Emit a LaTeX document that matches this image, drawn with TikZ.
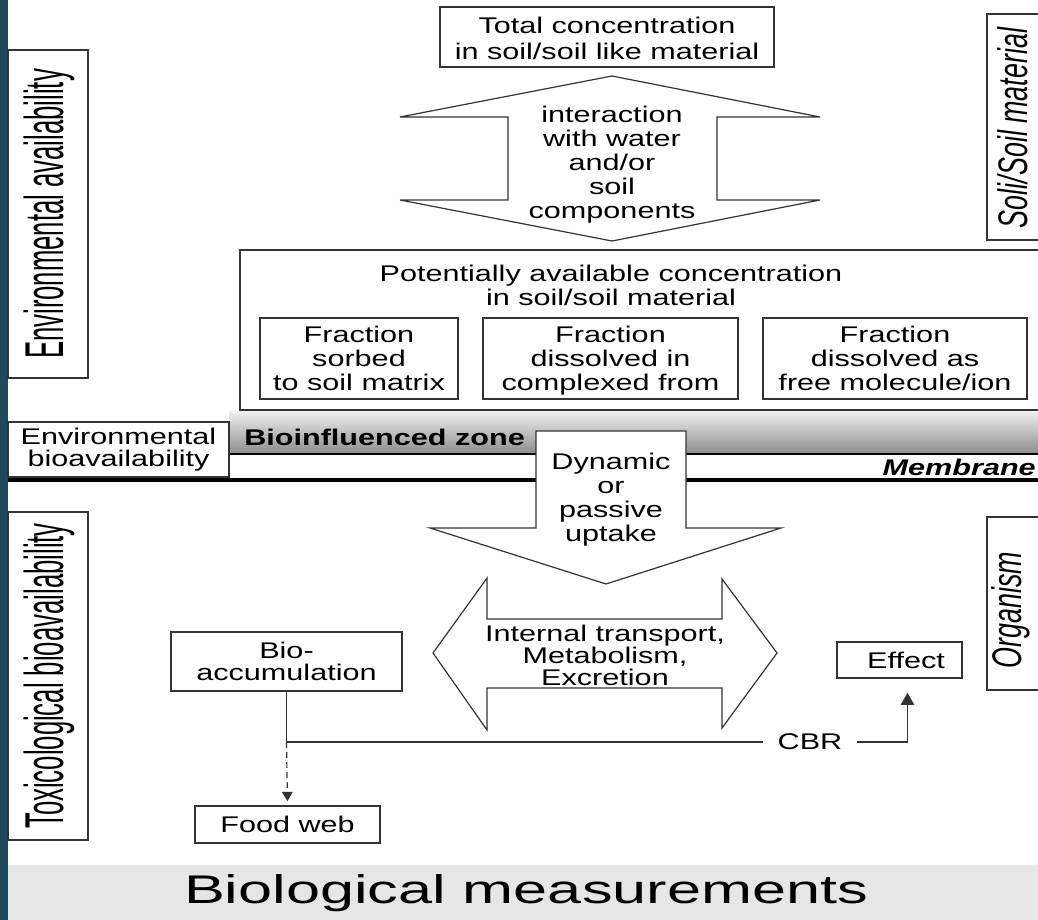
\documentclass[tikz,border=0pt]{standalone}
\usepackage{fontspec}
\setmainfont{Liberation Sans}
\newfontfamily\bodyfont{Liberation Sans}[FakeStretch=1.35]
\newfontfamily\sidefont{Liberation Sans}[FakeStretch=0.47]
\newfontfamily\sideitfont{Liberation Sans}[FakeStretch=0.65]
\newfontfamily\titlefont{Liberation Sans}[FakeStretch=1.53]
\usetikzlibrary{arrows.meta,fit}

\definecolor{stripteal}{RGB}{27,74,90}
\definecolor{boxline}{RGB}{51,51,51}
\definecolor{footgray}{RGB}{230,230,230}
\definecolor{zonetop}{RGB}{240,240,240}
\definecolor{zonebottom}{RGB}{140,140,140}

\tikzset{
  box/.style={draw=boxline, line width=1.2pt, fill=white, inner sep=0pt},
  txt/.style={inner sep=0pt, align=center, font=\bodyfont\fontsize{17}{18}\selectfont},
  sidetext/.style={rotate=90, inner sep=0pt, font=\sidefont\fontsize{41}{41}\selectfont},
  sideittext/.style={rotate=90, inner sep=0pt, font=\sideitfont\itshape\fontsize{31}{31}\selectfont},
  bigarrow/.style={draw=boxline, line width=0.9pt, fill=white},
  link/.style={draw=boxline, line width=0.9pt},
}

\begin{document}
\begin{tikzpicture}[x=0.75pt, y=-0.75pt]
    \useasboundingbox (0,0) rectangle (1038,920);
    \clip (0,0) rectangle (1038,920);

    % Footer band and side strip
    \fill[footgray] (0,865) rectangle (1038,920);
    \fill[stripteal] (0,0) rectangle (8,920);
    \node[font=\titlefont\fontsize{30}{30}\selectfont] (biomeas) at (526,893) {Biological measurements};

    % Bioinfluenced zone and membrane
    \shade[top color=zonetop, bottom color=zonebottom] (229,411) rectangle (1038,454);
    \draw[black, line width=1.5pt] (229,454) -- (1038,454);
    \draw[black, line width=3pt] (8,480) -- (1038,480);
    \node[txt, anchor=base west, font=\bodyfont\bfseries\fontsize{17}{18}\selectfont] (biozone) at (244,445) {Bioinfluenced zone};
    \node[txt, anchor=base east, font=\bodyfont\bfseries\itshape\fontsize{17}{18}\selectfont] (membrane) at (1036,475) {Membrane};

    % Side labels
    \node[box, fit={(8,50) (88,378)}] (envavail) {};
    \node[sidetext] (envavailtxt) at (49,214) {Environmental availability};
    \node[box, fit={(8,512) (88,840)}] (toxavail) {};
    \node[sidetext] (toxavailtxt) at (49,676) {Toxicological bioavailability};
    \node[box, fit={(987,14) (1045,240)}] (soilmat) {};
    \node[sideittext] (soilmattxt) at (1013,128) {Soli/Soil material};
    \node[box, fit={(987,517) (1045,690)}] (organism) {};
    \node[sideittext] (organismtxt) at (1011,610) {Organism};
    \node[box, fit={(8,422) (229,477)}] (envbio) {};
    \node[txt, font=\bodyfont\fontsize{17}{17}\selectfont] (envbiotxt) at (envbio) {Environmental\\bioavailability};

    % Total concentration
    \node[box, fit={(440,7) (774,67)}] (total) {};
    \node[txt, font=\bodyfont\fontsize{17}{19.5}\selectfont] (totaltxt) at (607,38) {Total concentration\\in soil/soil like material};

    % Interaction arrow
    \draw[bigarrow] (612,76) -- (820,117) -- (717,117) -- (717,200) -- (820,200) -- (612,241)
        -- (400,200) -- (508,200) -- (508,117) -- (400,117) -- cycle;
    \node[txt] (interact) at (612,165) {interaction\\with water\\and/or\\soil\\components};

    % Potentially available concentration
    \node[box, fit={(240,250) (1045,410)}] (potavail) {};
    \node[txt] (potavailtxt) at (611,285) {Potentially available concentration\\in soil/soil material};
    \node[box, fit={(260,318) (458,399)}] (sorbed) {};
    \node[txt, anchor=north] (sorbedtxt) at (sorbed.center |- 0,326) {Fraction\\sorbed\\to soil matrix};
    \node[box, fit={(483,318) (738,399)}] (complexed) {};
    \node[txt, anchor=north] (complexedtxt) at (complexed.center |- 0,326) {Fraction\\dissolved in\\complexed from};
    \node[box, fit={(763,318) (1027,399)}] (freeion) {};
    \node[txt, anchor=north] (freeiontxt) at (freeion.center |- 0,326) {Fraction\\dissolved as\\free molecule/ion};

    % Uptake arrow
    \draw[bigarrow] (536,431) -- (686,431) -- (686,528) -- (781,528) -- (606,584)
        -- (430,528) -- (536,528) -- cycle;
    \node[txt] (uptake) at (611,500) {Dynamic\\or\\passive\\uptake};

    % Internal transport arrow
    \draw[bigarrow] (433,653) -- (487,578) -- (487,619) -- (722,619) -- (722,579) -- (777,653)
        -- (722,728) -- (722,688) -- (487,688) -- (487,730) -- cycle;
    \node[txt, font=\bodyfont\fontsize{17}{16.5}\selectfont] (internal) at (605,655) {Internal transport,\\Metabolism,\\Excretion};

    % Organism level
    \node[box, fit={(171,632) (402,691)}] (bioacc) {};
    \node[txt, font=\bodyfont\fontsize{17}{17}\selectfont] (bioacctxt) at (bioacc) {Bio-\\accumulation};
    \node[box, fit={(195,806) (380,843)}] (foodweb) {};
    \node[txt] (foodwebtxt) at (foodweb) {Food web};
    \node[box, fit={(837,642) (962,678)}] (effect) {};
    \node[txt] (effecttxt) at (906,660) {Effect};
    \node[txt, inner xsep=10.5pt] (cbr) at (810,742) {CBR};

    % Connectors
    \coordinate (split) at (bioacc.south |- cbr.west);
    \draw[link] (bioacc.south) -- (split) -- (cbr.west);
    \draw[link, dash pattern=on 4.5pt off 3pt, -{Triangle[length=7pt,width=8pt]}, shorten >=3pt] (split) -- (foodweb.north);
    \draw[link, -{Triangle[length=9pt,width=10pt]}, shorten >=10.5pt] (cbr.east) -| ([xshift=6pt]effect.south);
\end{tikzpicture}
\end{document}
